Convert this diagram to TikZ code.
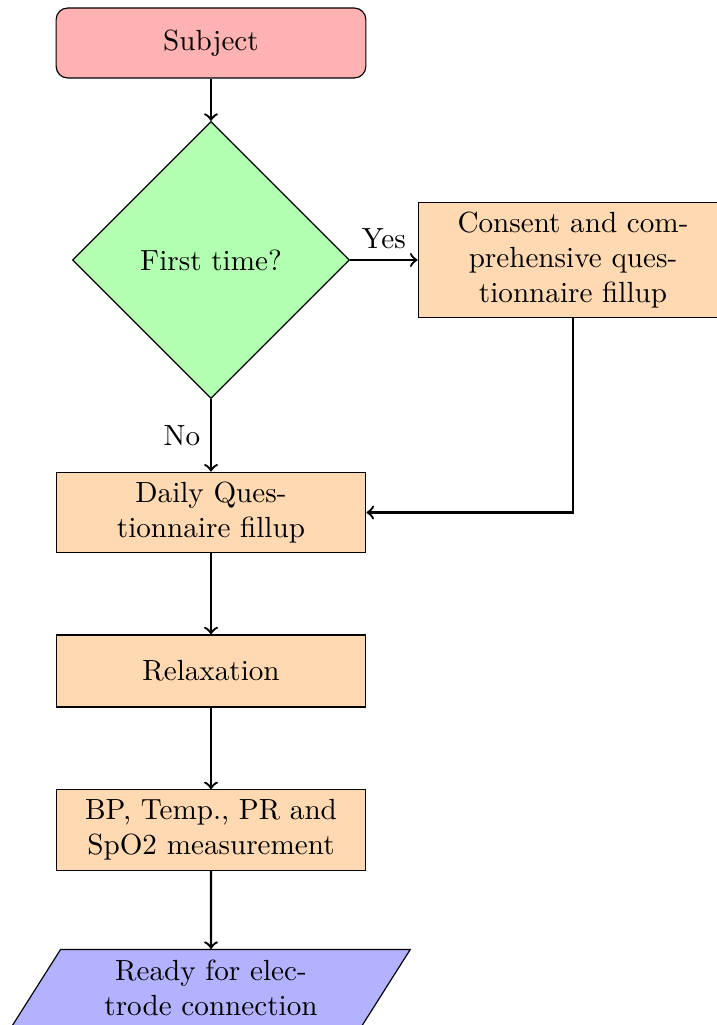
\documentclass[tikz,border=0pt]{standalone}
\usetikzlibrary{shapes.geometric,arrows}

\tikzset{
  startstop/.style={rectangle, rounded corners, text width=3.5cm, minimum height=24pt,
    align=center, draw=black, fill=red!30},
  process/.style={rectangle, text width=3.5cm, minimum height=24.7pt,
    align=center, draw=black, fill=orange!30},
  decision/.style={diamond, aspect=1, minimum width=95pt, minimum height=95pt,
    align=center, draw=black, fill=green!30},
  io/.style={trapezium, trapezium left angle=60, trapezium right angle=120,
    trapezium stretches=true, minimum width=136.9pt, minimum height=26.4pt,
    text width=3cm, align=center, draw=black, fill=blue!30},
  arrow/.style={thick, ->, >=to},
}

\begin{document}
\begin{tikzpicture}[x=0.343pt, y=-0.343pt]
  \useasboundingbox (0,0) rectangle (717,1025);

  % flow of the session
  \node[startstop] (subject) at (211,43) {Subject};
  \node[decision] (first) at (211,260) {First time?};
  \node[process] (consent) at (573,260) {Consent and comprehensive questionnaire fillup};
  \node[process] (daily) at (211,512.5) {Daily Questionnaire fillup};
  \node[process] (relax) at (211,671) {Relaxation};
  \node[process] (vitals) at (211,830) {BP, Temp., PR and SpO2 measurement};
  \node[io] (ready) at (211,988) {Ready for electrode connection};

  % connectors
  \draw[arrow] (subject) -- (first);
  \draw[arrow] (first) -- node[anchor=south] {Yes} (consent);
  \draw[arrow] (first) -- node[anchor=east] {No} (daily);
  \draw[arrow] (consent.south) |- (daily.east);
  \draw[arrow] (daily) -- (relax);
  \draw[arrow] (relax) -- (vitals);
  \draw[arrow] (vitals) -- (ready);
\end{tikzpicture}
\end{document}
